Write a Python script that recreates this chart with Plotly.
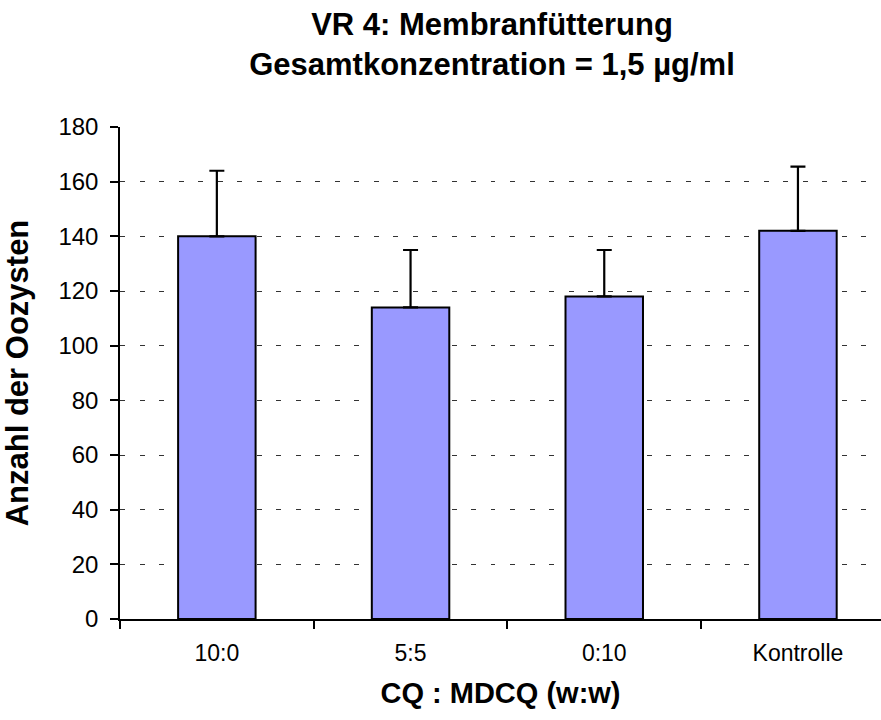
import plotly.graph_objects as go

categories = ["10:0", "5:5", "0:10", "Kontrolle"]
means = [140, 114, 118, 142]
errors = [24, 21, 17, 23.5]
y_ticks = [0, 20, 40, 60, 80, 100, 120, 140, 160, 180]

FONT = "Liberation Sans, Arial, sans-serif"

fig = go.Figure()
fig.add_trace(go.Bar(
    x=categories,
    y=means,
    width=0.40,
    marker=dict(color="#9999FF", line=dict(color="black", width=2)),
    error_y=dict(type="data", array=errors, arrayminus=[0] * len(errors),
                 symmetric=False, color="black", thickness=2.2, width=7.5),
    showlegend=False,
))

fig.update_layout(
    width=881, height=720,
    margin=dict(l=120, r=0, t=127, b=101),
    plot_bgcolor="white", paper_bgcolor="white",
    font=dict(family=FONT, color="black"),
    title=dict(
        text="<b>VR 4: Membranfütterung<br>Gesamtkonzentration = 1,5 µg/ml</b>",
        x=492 / 881, xanchor="center", xref="container",
        y=1 - 35 / 720, yanchor="top", yref="container",
        font=dict(size=31, family=FONT, color="black"),
    ),
    xaxis=dict(
        type="category",
        range=[-0.5, -0.5 + 761 / 193.7],
        showline=True, linecolor="black", linewidth=1.5,
        ticks="outside", ticklen=8, tickcolor="black", tickwidth=1.5,
        tickson="boundaries",
        ticklabelstandoff=13,
        showgrid=False,
        tickfont=dict(size=23, family=FONT),
        title=dict(text="<b>CQ : MDCQ (w:w)</b>", font=dict(size=29, family=FONT), standoff=17),
    ),
    yaxis=dict(
        range=[0, 180],
        tickvals=y_ticks,
        showline=True, linecolor="black", linewidth=1.5,
        ticks="outside", ticklen=8, tickcolor="black", tickwidth=1.5,
        ticklabelstandoff=7,
        showgrid=True, gridcolor="#333333", gridwidth=1.3, griddash="5px,14.5px",
        zeroline=False,
        tickfont=dict(size=24, family=FONT),
        title=dict(text="<b>Anzahl der Oozysten</b>", font=dict(size=31, family=FONT), standoff=23),
    ),
)

fig.write_html("out.html")
